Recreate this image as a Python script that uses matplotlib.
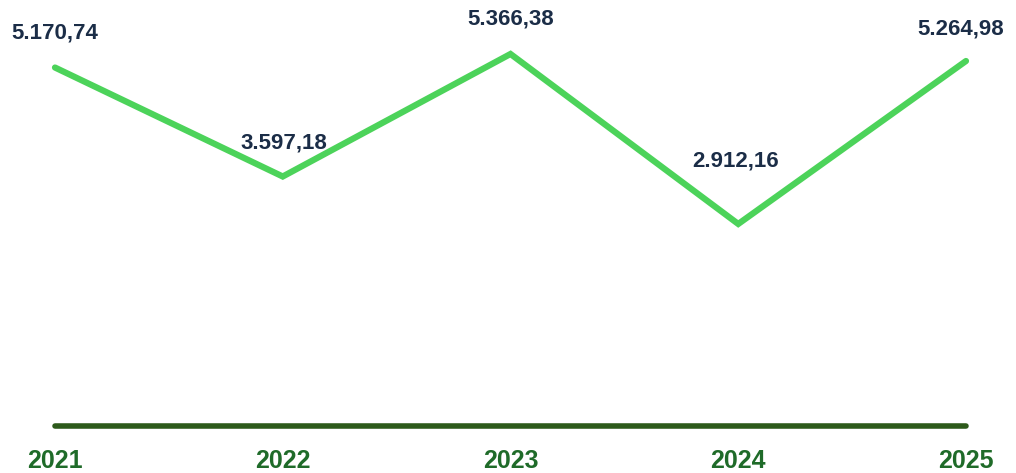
import matplotlib.pyplot as plt

years = ["2021", "2022", "2023", "2024", "2025"]
values = [5170.74, 3597.18, 5366.38, 2912.16, 5264.98]
value_labels = ["5.170,74", "3.597,18", "5.366,38", "2.912,16", "5.264,98"]

# label offsets above each point (points)
label_dy = [25, 24, 25, 45, 23]
label_dx = [0, 1, 0, -2, -4]

fig = plt.figure(figsize=(10.16, 4.73), dpi=100)
ax = fig.add_axes([0, 0.1002, 1, 0.8998])

x = list(range(len(years)))
ax.plot(x, values, color="#4CD35A", linewidth=4.5, solid_capstyle="round",
        solid_joinstyle="miter", zorder=3)

# baseline
ax.plot([x[0], x[-1]], [0, 0], color="#2D5A1B", linewidth=4, solid_capstyle="round",
        clip_on=False, zorder=2)

for xi, v, lab, dy, dx in zip(x, values, value_labels, label_dy, label_dx):
    ax.annotate(lab, (xi, v), xytext=(dx, dy), textcoords="offset points",
                ha="center", va="center", fontsize=16, fontweight="bold",
                family="Liberation Sans", color="#1B2D47")

ax.set_xlim(-0.2415, 4.2196)
ax.set_ylim(0, 6146)
ax.set_xticks(x)
ax.set_xticklabels(years, fontsize=18, fontweight="bold", family="Liberation Sans",
                   color="#1F6B29")
ax.tick_params(axis="x", length=0, pad=17)
ax.set_yticks([])
for s in ax.spines.values():
    s.set_visible(False)

fig.savefig("out.png", dpi=100)
